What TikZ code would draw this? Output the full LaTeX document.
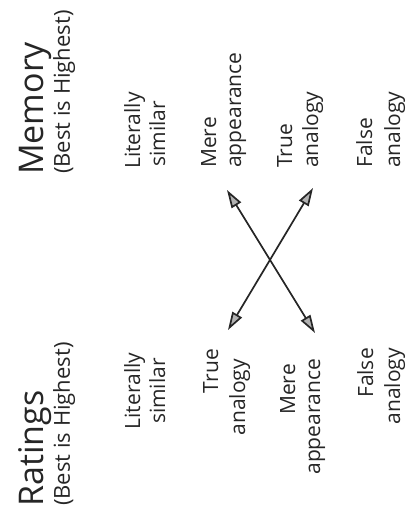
\documentclass[tikz,border=0pt]{standalone}
\usepackage{fontspec}
\setmainfont{Open Sans}
\usetikzlibrary{arrows.meta}
\begin{document}
\begin{tikzpicture}[x=1pt,y=-1pt,
  lbl/.style={rotate=90,inner sep=0pt,text=black!85,font=\fontsize{21}{25}\selectfont},
  ttl/.style={rotate=90,inner sep=0pt,text=black!85,font=\fontsize{34}{40}\selectfont},
  subttl/.style={rotate=90,inner sep=0pt,text=black!85,font=\fontsize{22}{26}\selectfont},
  dbl/.style={line width=1.7pt,draw=black!85,{Triangle[length=18pt,width=11pt,fill=black!30]}-{Triangle[length=18pt,width=11pt,fill=black!30]}}]
\fill[white] (0,0) rectangle (408,523);
\useasboundingbox (0,0) rectangle (408,523);
% Memory column
\node[ttl,anchor=base west] (memT) at (43,175) {Memory};
\node[subttl,anchor=base west] (memS) at (70,174) {(Best is Highest)};
\node[lbl,anchor=base west] (mLit1) at (140,169) {Literally};
\node[lbl,anchor=base west] (mLit2) at (165,167) {similar};
\node[lbl,anchor=base west] (mMere1) at (216,168) {Mere};
\node[lbl,anchor=base west] (mMere2) at (241,168) {appearance};
\node[lbl,anchor=base west] (mTrue1) at (292,168) {True};
\node[lbl,anchor=base west] (mTrue2) at (318,168) {analogy};
\node[lbl,anchor=base west] (mFalse1) at (372,168) {False};
\node[lbl,anchor=base west] (mFalse2) at (400,168) {analogy};
% Ratings column
\node[ttl,anchor=base west] (ratT) at (43,507) {Ratings};
\node[subttl,anchor=base west] (ratS) at (70,506) {(Best is Highest)};
\node[lbl,anchor=base] (rLit1) at (140,391) {Literally};
\node[lbl,anchor=base] (rLit2) at (165,391) {similar};
\node[lbl,anchor=base east] (rTrue1) at (218,349) {True};
\node[lbl,anchor=base east] (rTrue2) at (245,359) {analogy};
\node[lbl,anchor=base east] (rMere1) at (295,364) {Mere};
\node[lbl,anchor=base east] (rMere2) at (320,359) {appearance};
\node[lbl,anchor=base east] (rFalse1) at (373,348) {False};
\node[lbl,anchor=base east] (rFalse2) at (400,348) {analogy};
% crossing arrows
\coordinate (a1) at (228,330);
\coordinate (a2) at (313,188);
\coordinate (b1) at (227,190);
\coordinate (b2) at (315,333);
\draw[dbl] (a1) -- (a2);
\draw[dbl] (b1) -- (b2);
\end{tikzpicture}
\end{document}
